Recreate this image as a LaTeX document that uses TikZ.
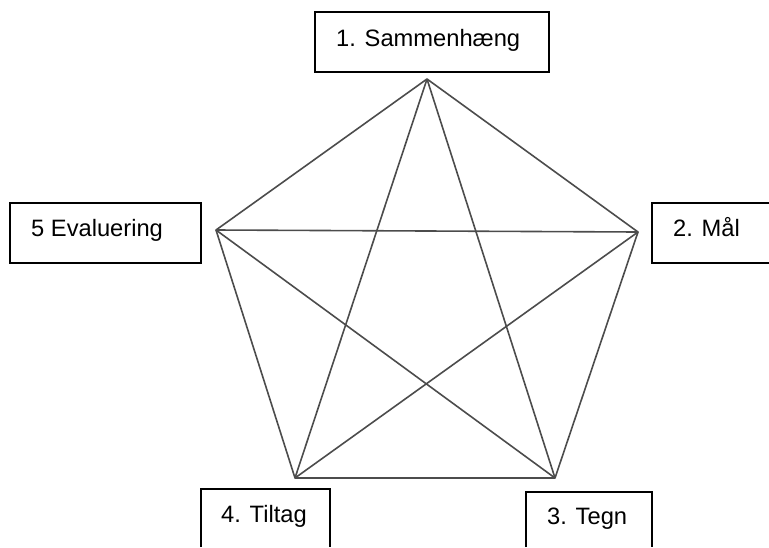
\documentclass[tikz,border=0pt]{standalone}
\usepackage{fontspec}
\setmainfont{Liberation Sans}
\begin{document}
\begin{tikzpicture}[x=1pt,y=-1pt,
  boxline/.style={draw=black,line width=1.6pt},
  edge/.style={draw=black!70,line width=1.6pt,line join=round},
  lbl/.style={anchor=base west,inner sep=0pt,font=\fontsize{23.7}{28}\selectfont}]
\useasboundingbox (0,0) rectangle (769,547);
% boxes
\draw[boxline] (315,12) rectangle (549,72);
\draw[boxline] (10,203) rectangle (201,263);
\draw[boxline] (769,203) -- (652,203) -- (652,263) -- (769,263);
\draw[boxline] (201,547) -- (201,489) -- (330,489) -- (330,547);
\draw[boxline] (526,547) -- (526,492) -- (652,492) -- (652,547);
% labels
\node[lbl] (t1) at (336,46) {1. Sammenhæng};
\node[lbl] (t5) at (31,236) {5 Evaluering};
\node[lbl] (t2) at (673,236) {2. Mål};
\node[lbl] (t4) at (221,522) {4. Tiltag};
\node[lbl] (t3) at (547,524) {3. Tegn};
% vertices
\coordinate (v1) at (427,79);
\coordinate (v2) at (638,232);
\coordinate (v3) at (555,478);
\coordinate (v4) at (295,478);
\coordinate (v5) at (216,230);
% pentagon
\draw[edge] (v1) -- (v2) -- (v3) -- (v4) -- (v5) -- cycle;
% star
\draw[edge] (v1) -- (v3);
\draw[edge] (v1) -- (v4);
\draw[edge] (v2) -- (v4);
\draw[edge] (v2) -- (v5);
\draw[edge] (v3) -- (v5);
\end{tikzpicture}
\end{document}
